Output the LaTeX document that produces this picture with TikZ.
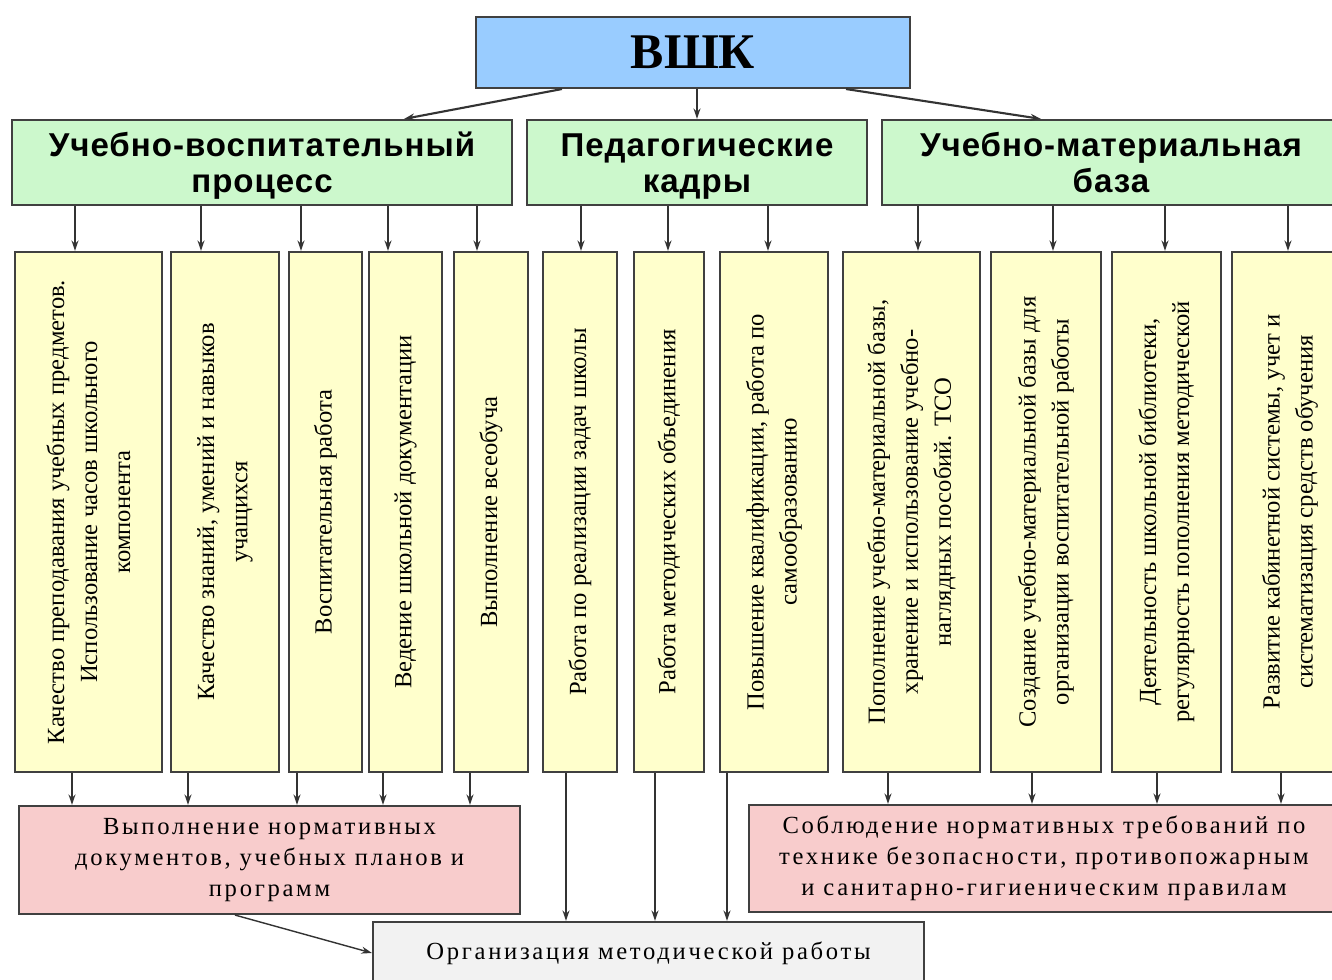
\documentclass[tikz,border=0pt]{standalone}
\usepackage{fontspec}
\setmainfont{Liberation Serif}
\newfontfamily\headfont[LetterSpace=3]{Liberation Sans}
\newfontfamily\wideserif[LetterSpace=11]{Liberation Serif}
\usetikzlibrary{arrows.meta}
\definecolor{vshkblue}{HTML}{99CCFF}
\definecolor{areagreen}{HTML}{CCF8CC}
\definecolor{itemyellow}{HTML}{FFFFCC}
\definecolor{normpink}{HTML}{F8CCCC}
\definecolor{methgray}{HTML}{F2F2F2}
\newdimen\px \px=0.01cm
\newcommand{\toprule}{\rule{0pt}{9.8pt}}
\tikzset{basic/.style={draw=black!75,line width=0.6pt,inner sep=0pt,align=center}}
\tikzset{area/.style={basic,fill=areagreen,minimum height=85\px,
                      font=\headfont\bfseries\fontsize{9.4}{10}\selectfont}}
\tikzset{item/.style={basic,fill=itemyellow,rotate=90,minimum width=520\px,
                      font=\fontsize{7}{9.4}\selectfont}}
\tikzset{norm/.style={basic,fill=normpink,
                      font=\wideserif\fontsize{7}{8.8}\selectfont}}

\begin{document}
\begin{tikzpicture}[x=0.01cm,y=-0.01cm]
    \tikzstyle{link}=[draw=black!80,line width=0.4pt,-{Stealth[length=3pt,width=2pt]}]
    \useasboundingbox[fill=white] (0,0) rectangle (1332,980);

    % Draw the top node
    \node[basic,fill=vshkblue,minimum width=434\px,minimum height=71\px,
          font=\bfseries\fontsize{14.2}{16}\selectfont] (vshk) at (693,52.5) {ВШК};

    % Draw the three areas of control
    \node[area,minimum width=500\px] (uvp) at (262,162.5) {\toprule Учебно-воспитательный\\\strut процесс};
    \node[area,minimum width=340\px] (pk) at (697,162.5) {\toprule Педагогические\\\strut кадры};
    \node[area,minimum width=458\px] (umb) at (1111,162.5) {\toprule Учебно-материальная\\\strut база};

    % Draw the columns (text reads upwards)
    \foreach \n / \x / \w / \txt in {
        1/88.5/147/{Качество преподавания учебных предметов.\\Использование часов школьного\\компонента},
        2/225/108/{Качество знаний, умений и навыков\\учащихся},
        3/325.5/73/{Воспитательная работа},
        4/405.5/73/{Ведение школьной документации},
        5/491/74/{Выполнение всеобуча},
        6/580/74/{Работа по реализации задач школы},
        7/669/70/{Работа методических объединения},
        8/774/108/{Повышение квалификации, работа по\\самообразованию},
        9/911.5/137/{Пополнение учебно-материальной базы,\\хранение и использование учебно-\\наглядных пособий. ТСО},
        10/1046/110/{Создание учебно-материальной базы для\\организации воспитательной работы},
        11/1166.5/109/{Деятельность школьной библиотеки,\\регулярность пополнения методической},
        12/1290/116/{Развитие кабинетной системы, учет и\\систематизация средств обучения}}
        \node[item,minimum height=\w\px] (c\n) at (\x,512) {\txt};

    % Draw the result boxes
    \node[norm,minimum width=501\px,minimum height=108\px] (normL) at (269.5,860)
        {Выполнение нормативных\\документов, учебных планов и\\программ};
    \node[norm,minimum width=590\px,minimum height=107\px] (normR) at (1044,858.5)
        {Соблюдение нормативных требований по\\технике безопасности, противопожарным\\и санитарно-гигиеническим правилам};
    \node[norm,fill=methgray,minimum width=551\px,minimum height=62\px] (meth) at (648.5,953)
        {Организация методической работы};

    % Connect the top node with the areas
    \draw[link,line width=0.6pt] ([xshift=87\px]vshk.south west) -- ([xshift=-109\px]uvp.north east);
    \draw[link] (vshk.south -| pk.north) -- (pk.north);
    \draw[link,line width=0.6pt] ([xshift=-65\px]vshk.south east) -- ([xshift=160\px]umb.north west);

    % Connect every area with its columns and the columns with the boxes below
    \foreach \n / \t / \b in {1/75/72, 2/201/188, 3/301/297, 4/388/383, 5/477/470}
    {
        \coordinate (t\n) at (\t,0);
        \coordinate (b\n) at (\b,0);
        \draw[link] (uvp.south -| t\n) -- (c\n.east -| t\n);
        \draw[link] (c\n.west -| b\n) -- (normL.north -| b\n);
    }
    \foreach \n / \t / \b in {6/581/566, 7/668/655, 8/768/727}
    {
        \coordinate (t\n) at (\t,0);
        \coordinate (b\n) at (\b,0);
        \draw[link] (pk.south -| t\n) -- (c\n.east -| t\n);
        \draw[link] (c\n.west -| b\n) -- (meth.north -| b\n);
    }
    \foreach \n / \t / \b in {9/918/888, 10/1053/1032, 11/1165/1157, 12/1288/1281}
    {
        \coordinate (t\n) at (\t,0);
        \coordinate (b\n) at (\b,0);
        \draw[link] (umb.south -| t\n) -- (c\n.east -| t\n);
        \draw[link] (c\n.west -| b\n) -- (normR.north -| b\n);
    }

    % Norms lead to the methodical work
    \draw[link] ([xshift=217\px]normL.south west) -- (meth.west);
\end{tikzpicture}
\end{document}
